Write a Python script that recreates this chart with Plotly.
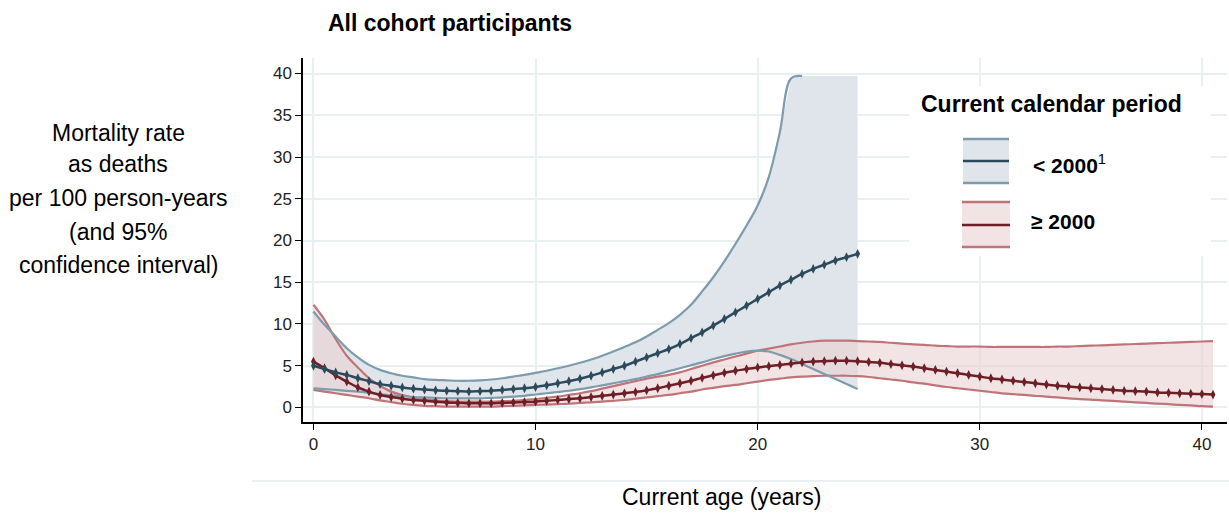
import plotly.graph_objects as go

# ---------------- data ----------------
ages_pre = [i / 2 for i in range(50)]          # 0 .. 24.5
ages_post = [i / 2 for i in range(82)]         # 0 .. 40.5

pre_rate = [5.0, 4.6, 4.2, 3.9, 3.5, 3.15, 2.8, 2.6, 2.4, 2.25,
            2.15, 2.05, 2.0, 1.95, 1.9, 1.95, 2.0, 2.1, 2.2, 2.3,
            2.45, 2.65, 2.9, 3.15, 3.45, 3.8, 4.2, 4.6, 5.0, 5.5,
            6.0, 6.5, 7.0, 7.6, 8.3, 9.0, 9.8, 10.6, 11.4, 12.2,
            13.0, 13.8, 14.6, 15.3, 16.0, 16.6, 17.1, 17.6, 18.0, 18.4]
pre_upper = [11.5, 9.9, 8.5, 7.1, 6.0, 5.1, 4.5, 4.1, 3.8, 3.6,
             3.4, 3.3, 3.25, 3.2, 3.2, 3.25, 3.35, 3.5, 3.7, 3.9,
             4.15, 4.4, 4.7, 5.0, 5.35, 5.75, 6.2, 6.7, 7.25, 7.8,
             8.5, 9.3, 10.1, 11.1, 12.3, 13.9, 15.6, 17.5, 19.6, 21.8,
             24.2, 27.6, 33.0, 39.4, 39.7, 39.7, 39.7, 39.7, 39.7, 39.7]
pre_lower = [2.3, 2.2, 2.1, 2.0, 1.9, 1.75, 1.6, 1.45, 1.35, 1.25,
             1.2, 1.15, 1.1, 1.1, 1.1, 1.1, 1.15, 1.2, 1.3, 1.4,
             1.55, 1.7, 1.85, 2.0, 2.2, 2.4, 2.65, 2.9, 3.15, 3.4,
             3.7, 4.0, 4.35, 4.7, 5.05, 5.4, 5.8, 6.15, 6.45, 6.7,
             6.8, 6.7, 6.3, 5.8, 5.2, 4.6, 4.0, 3.4, 2.8, 2.2]

post_rate = [5.5, 4.7, 3.85, 3.1, 2.4, 1.9, 1.5, 1.25, 1.05, 0.9,
             0.8, 0.7, 0.6, 0.55, 0.5, 0.5, 0.5, 0.55, 0.6, 0.65,
             0.7, 0.8, 0.9, 1.0, 1.1, 1.25, 1.4, 1.55, 1.7, 1.85,
             2.05, 2.3, 2.6, 2.9, 3.2, 3.55, 3.85, 4.15, 4.4, 4.6,
             4.8, 4.95, 5.1, 5.25, 5.4, 5.5, 5.55, 5.6, 5.6, 5.55,
             5.45, 5.35, 5.2, 5.05, 4.9, 4.7, 4.5, 4.3, 4.1, 3.9,
             3.7, 3.5, 3.35, 3.2, 3.05, 2.9, 2.75, 2.6, 2.5, 2.4,
             2.3, 2.2, 2.1, 2.0, 1.95, 1.9, 1.8, 1.75, 1.7, 1.65,
             1.6, 1.55]
post_upper = [12.3, 10.5, 8.2, 6.2, 4.8, 3.5, 2.6, 1.9, 1.5, 1.2,
              1.0, 0.85, 0.75, 0.7, 0.7, 0.7, 0.7, 0.75, 0.8, 0.9,
              1.0, 1.15, 1.3, 1.5, 1.7, 1.95, 2.25, 2.55, 2.85, 3.15,
              3.45, 3.7, 3.9, 4.2, 4.6, 5.0, 5.4, 5.75, 6.1, 6.45,
              6.8, 7.05, 7.3, 7.55, 7.75, 7.9, 8.0, 8.0, 8.0, 7.95,
              7.9, 7.85, 7.75, 7.65, 7.55, 7.5, 7.4, 7.35, 7.3, 7.3,
              7.3, 7.25, 7.25, 7.25, 7.25, 7.25, 7.25, 7.3, 7.3, 7.35,
              7.4, 7.45, 7.5, 7.55, 7.6, 7.65, 7.7, 7.75, 7.8, 7.85,
              7.9, 7.95]
post_lower = [2.1, 1.9, 1.7, 1.5, 1.3, 1.1, 0.85, 0.65, 0.45, 0.3,
              0.2, 0.15, 0.1, 0.1, 0.1, 0.1, 0.1, 0.15, 0.2, 0.25,
              0.3, 0.35, 0.4, 0.45, 0.55, 0.6, 0.7, 0.8, 0.9, 1.05,
              1.2, 1.35, 1.5, 1.7, 1.9, 2.15, 2.35, 2.55, 2.7, 2.9,
              3.1, 3.3, 3.45, 3.6, 3.7, 3.75, 3.8, 3.8, 3.8, 3.75,
              3.65, 3.5, 3.35, 3.2, 3.0, 2.85, 2.65, 2.45, 2.3, 2.15,
              2.0, 1.85, 1.7, 1.6, 1.5, 1.4, 1.3, 1.2, 1.1, 1.0,
              0.95, 0.85, 0.8, 0.7, 0.6, 0.55, 0.45, 0.4, 0.3, 0.25,
              0.15, 0.1]

y_ticks = [0, 5, 10, 15, 20, 25, 30, 35, 40]
x_ticks = [0, 10, 20, 30, 40]
upper_cap = 39.7   # the upper CI of the earlier period is cut off at the top of the plot

# ---------------- styles ----------------
BLUE_DARK = "#2d4a5d"
BLUE_LINE = "#7d9bac"
BLUE_FILL = "#dfe5ea"
RED_DARK = "#6c1f26"
RED_LINE = "#bf7479"
RED_FILL = "rgba(233,208,210,0.6)"
RED_FILL_SWATCH = "#f2e3e4"
GRID = "#e8f0f2"
FONT = "Liberation Sans, Arial, sans-serif"

W, H = 1229, 513
L, R, T, B = 303, 2, 58, 91
PW, PH = W - L - R, H - T - B


def px(xp):
    return (xp - L) / PW


def py(yp):
    return (H - B - yp) / PH


fig = go.Figure()

# bands
fig.add_trace(go.Scatter(x=ages_pre + ages_pre[::-1], y=pre_lower + pre_upper[::-1],
                         fill="toself", fillcolor=BLUE_FILL, line=dict(width=0),
                         mode="lines", hoverinfo="skip", showlegend=False))
fig.add_trace(go.Scatter(x=ages_post + ages_post[::-1], y=post_lower + post_upper[::-1],
                         fill="toself", fillcolor=RED_FILL, line=dict(width=0),
                         mode="lines", hoverinfo="skip", showlegend=False))

# band edges
for yv in (post_upper, post_lower):
    fig.add_trace(go.Scatter(x=ages_post, y=yv, mode="lines",
                             line=dict(color=RED_LINE, width=2.2, shape="spline"),
                             showlegend=False))
up_x = [a for a, v in zip(ages_pre, pre_upper) if a <= 22]
up_y = [min(v, upper_cap) for a, v in zip(ages_pre, pre_upper) if a <= 22]
fig.add_trace(go.Scatter(x=up_x, y=up_y, mode="lines",
                         line=dict(color=BLUE_LINE, width=2.2, shape="spline"),
                         showlegend=False))
fig.add_trace(go.Scatter(x=ages_pre, y=pre_lower, mode="lines",
                         line=dict(color=BLUE_LINE, width=2.2, shape="spline"),
                         showlegend=False))

# central estimates
fig.add_trace(go.Scatter(x=ages_post, y=post_rate, mode="lines+markers",
                         line=dict(color=RED_DARK, width=2.5, shape="spline"),
                         marker=dict(symbol="diamond-tall", size=7, color=RED_DARK),
                         name="≥ 2000", showlegend=False))
fig.add_trace(go.Scatter(x=ages_pre, y=pre_rate, mode="lines+markers",
                         line=dict(color=BLUE_DARK, width=2.5, shape="spline"),
                         marker=dict(symbol="diamond-tall", size=7, color=BLUE_DARK),
                         name="< 2000", showlegend=False))

# ---------------- legend (drawn) ----------------
shapes = []
shapes.append(dict(type="rect", xref="paper", yref="paper",
                   x0=px(909), x1=px(1211), y0=py(256), y1=py(86),
                   fillcolor="white", line=dict(width=0), layer="above"))
for (x0, x1, ytop, ymid, ybot, fill, edge, dark) in [
        (963, 1009, 139, 161, 183, BLUE_FILL, BLUE_LINE, BLUE_DARK),
        (962, 1010, 202, 225, 247, RED_FILL_SWATCH, RED_LINE, RED_DARK)]:
    shapes.append(dict(type="rect", xref="paper", yref="paper",
                       x0=px(x0), x1=px(x1), y0=py(ybot), y1=py(ytop),
                       fillcolor=fill, line=dict(width=0), layer="above"))
    for yy in (ytop, ybot):
        shapes.append(dict(type="line", xref="paper", yref="paper",
                           x0=px(x0), x1=px(x1), y0=py(yy), y1=py(yy),
                           line=dict(color=edge, width=2.5), layer="above"))
    shapes.append(dict(type="line", xref="paper", yref="paper",
                       x0=px(x0), x1=px(x1), y0=py(ymid), y1=py(ymid),
                       line=dict(color=dark, width=2.5), layer="above"))
# separator line above the x-axis title
shapes.append(dict(type="line", xref="paper", yref="paper",
                   x0=px(252), x1=px(1229), y0=py(481), y1=py(481),
                   line=dict(color=GRID, width=2)))

ann = []
ann.append(dict(text="<b>All cohort participants</b>", x=px(326), y=py(23),
                xanchor="left", yanchor="middle", font=dict(size=23, family=FONT, color="black")))
for txt, yy in [("Mortality rate", 133), ("as deaths", 164), ("per 100 person-years", 198),
                ("(and 95%", 232), ("confidence interval)", 265)]:
    ann.append(dict(text=txt, x=px(118), y=py(yy), xanchor="center", yanchor="middle",
                    font=dict(size=23, family=FONT, color="black")))
ann.append(dict(text="Current age (years)", x=px(721), y=py(497), xanchor="center",
                yanchor="middle", font=dict(size=23, family=FONT, color="black")))
ann.append(dict(text="<b>Current calendar period</b>", x=px(1051), y=py(104),
                xanchor="center", yanchor="middle", font=dict(size=23, family=FONT, color="black")))
ann.append(dict(text="<b>< 2000</b><sup>1</sup>", x=px(1031), y=py(164),
                xanchor="left", yanchor="middle", font=dict(size=21, family=FONT, color="black")))
ann.append(dict(text="<b>≥ 2000</b>", x=px(1029), y=py(221),
                xanchor="left", yanchor="middle", font=dict(size=21, family=FONT, color="black")))
for a in ann:
    a.update(xref="paper", yref="paper", showarrow=False)

fig.update_layout(
    width=W, height=H,
    margin=dict(l=L, r=R, t=T, b=B, pad=0),
    paper_bgcolor="white", plot_bgcolor="white",
    shapes=shapes, annotations=ann, showlegend=False,
    font=dict(family=FONT, color="black"),
)
fig.update_xaxes(range=[-0.47, 41.13], tickvals=x_ticks, showgrid=True, gridcolor=GRID,
                 gridwidth=2, zeroline=False, showline=True, linecolor="black", linewidth=1.5,
                 ticks="outside", ticklen=6, tickcolor="black", tickwidth=1.2,
                 tickfont=dict(family=FONT, size=17, color="#222"))
fig.update_yaxes(range=[-1.74, 41.86], tickvals=y_ticks, showgrid=True, gridcolor=GRID,
                 gridwidth=2, zeroline=False, showline=True, linecolor="black", linewidth=1.5,
                 ticks="outside", ticklen=6, tickcolor="black", tickwidth=1.2,
                 tickfont=dict(family=FONT, size=17, color="#222"))

fig.write_html("out.html")
